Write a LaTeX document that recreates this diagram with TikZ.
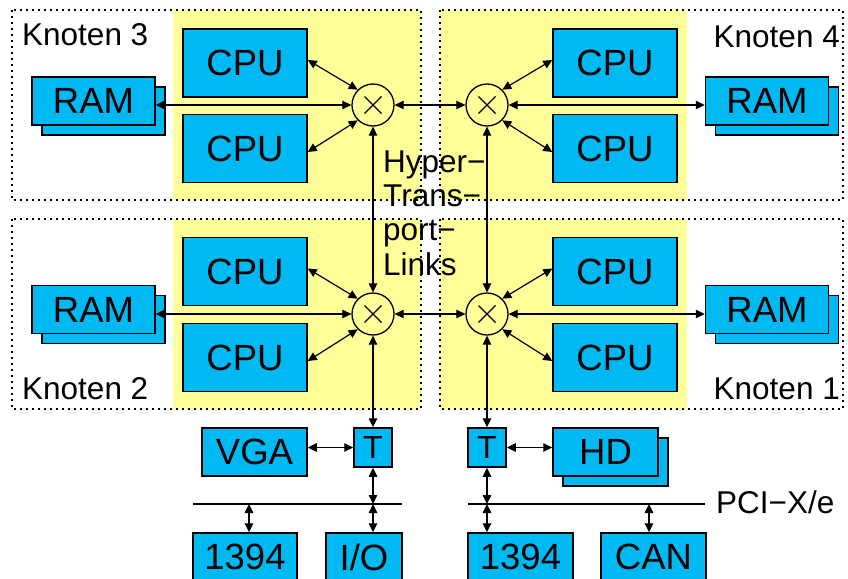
\documentclass[tikz,border=0pt]{standalone}
\usepackage{fontspec}
\setmainfont{Liberation Sans}
\usetikzlibrary{arrows.meta}
\definecolor{boxblue}{RGB}{0,185,242}
\definecolor{nodeyellow}{RGB}{255,255,153}

\begin{document}
\begin{tikzpicture}[x=1pt,y=-1pt,
  unit/.style={draw=black, line width=1.5pt, fill=boxblue, inner sep=0pt,
    font=\fontsize{36.5}{40}\selectfont},
  backcopy/.style={draw=black, line width=1.5pt, fill=boxblue, inner sep=0pt},
  cpubox/.style={unit, minimum width=124pt, minimum height=68pt},
  rambox/.style={unit, minimum width=123pt, minimum height=48pt},
  rambehind/.style={backcopy, minimum width=123pt, minimum height=48pt},
  xbar/.style={circle, draw=black, line width=1.3pt, minimum size=42pt, inner sep=0pt,
    path picture={\draw[line width=1.1pt] (path picture bounding box.center)
      +(-8.5pt,-8.5pt) -- +(8.5pt,8.5pt) +(-8.5pt,8.5pt) -- +(8.5pt,-8.5pt);}},
  link/.style={line width=1.2pt,
    {Triangle[length=9pt,width=8.5pt]}-{Triangle[length=9pt,width=8.5pt]}},
  knotframe/.style={line width=1.2pt, dash pattern=on 1.8pt off 4.2pt},
  nodetag/.style={font=\fontsize{31.5}{34.3}\selectfont, inner sep=0pt},
  ]
\useasboundingbox (0,0) rectangle (848,578);
\clip (0,0) rectangle (848,578);

% processor areas
\fill[nodeyellow] (173,10) rectangle (421,200);
\fill[nodeyellow] (440,10) rectangle (687,200);
\fill[nodeyellow] (173,219) rectangle (421,409);
\fill[nodeyellow] (440,219) rectangle (687,409);

% node frames
\draw[knotframe] (12,10) rectangle (421,200);
\draw[knotframe] (440,10) rectangle (843,200);
\draw[knotframe] (12,219) rectangle (421,409);
\draw[knotframe] (440,219) rectangle (843,409);

\node[nodetag, anchor=base west] (k3) at (22,46) {Knoten 3};
\node[nodetag, anchor=base east] (k4) at (840,48) {Knoten 4};
\node[nodetag, anchor=base west] (k2) at (22,399) {Knoten 2};
\node[nodetag, anchor=base east] (k1) at (840,399) {Knoten 1};

% crossbars
\node[xbar] (x3) at (373,105) {};
\node[xbar] (x4) at (487,105) {};
\node[xbar] (x2) at (373,314) {};
\node[xbar] (x1) at (487,314) {};

% CPUs
\node[cpubox] (c3a) at (245,63) {CPU};
\node[cpubox] (c3b) at (245,148.5) {CPU};
\node[cpubox] (c4a) at (615,63) {CPU};
\node[cpubox] (c4b) at (615,148.5) {CPU};
\node[cpubox] (c2a) at (245,271.5) {CPU};
\node[cpubox] (c2b) at (245,357.5) {CPU};
\node[cpubox] (c1a) at (615,271.5) {CPU};
\node[cpubox] (c1b) at (615,357.5) {CPU};

% memory banks
\node[rambehind] (r3b) at (103.5,111) {};
\node[rambox] (r3) at (93.5,101) {RAM};
\node[rambehind] (r4b) at (777,111) {};
\node[rambox] (r4) at (767,101) {RAM};
\node[rambehind] (r2b) at (103.5,319.5) {};
\node[rambox] (r2) at (93.5,309.5) {RAM};
\node[rambehind] (r1b) at (777,319.5) {};
\node[rambox] (r1) at (767,309.5) {RAM};

% CPU to crossbar
\draw[link] (x3.135) -- ([yshift=3pt]c3a.east);
\draw[link] (x3.-135) -- ([yshift=-3.5pt]c3b.east);
\draw[link] (x4.45) -- ([yshift=3pt]c4a.west);
\draw[link] (x4.-45) -- ([yshift=-3.5pt]c4b.west);
\draw[link] (x2.135) -- ([yshift=3pt]c2a.east);
\draw[link] (x2.-135) -- ([yshift=-3.5pt]c2b.east);
\draw[link] (x1.45) -- ([yshift=3pt]c1a.west);
\draw[link] (x1.-45) -- ([yshift=-3.5pt]c1b.west);

% memory to crossbar
\draw[link] (x3.west) -- (x3.west -| r3.east);
\draw[link] (x4.east) -- (x4.east -| r4.west);
\draw[link] (x2.west) -- (x2.west -| r2.east);
\draw[link] (x1.east) -- (x1.east -| r1.west);

% HyperTransport links
\draw[link] (x3.east) -- (x4.west);
\draw[link] (x2.east) -- (x1.west);
\draw[link] (x3.south) -- (x2.north);
\draw[link] (x4.south) -- (x1.north);

\node[nodetag, anchor=north west, align=left] (ht) at (383,150.5)
  {Hyper−\\Trans−\\port−\\Links};

% I/O side
\node[unit, minimum width=38pt, minimum height=39pt, font=\fontsize{32}{36}\selectfont] (tl) at (373,447.5) {T};
\node[unit, minimum width=38pt, minimum height=39pt, font=\fontsize{32}{36}\selectfont] (tr) at (487,447.5) {T};
\node[unit, minimum width=105pt, minimum height=48pt] (vga) at (254.5,452) {VGA};
\node[backcopy, minimum width=105pt, minimum height=48pt] (hdb) at (615.5,462) {};
\node[unit, minimum width=105pt, minimum height=48pt] (hd) at (605.5,452) {HD};

\node[unit, minimum width=104pt, minimum height=48pt] (fwl) at (245,557) {1394};
\node[unit, minimum width=76pt, minimum height=48pt] (io) at (364,557) {I/O};
\node[unit, minimum width=105pt, minimum height=48pt] (fwr) at (520.5,557) {1394};
\node[unit, minimum width=105pt, minimum height=48pt] (can) at (653.5,557) {CAN};

\draw[link] (x2.south) -- (tl.north);
\draw[link] (x1.south) -- (tr.north);
\draw[link] (tl.west) -- (tl.west -| vga.east);
\draw[link] (tr.east) -- (tr.east -| hd.west);

% buses
\coordinate (busla) at (193,504);
\coordinate (buslb) at (402,504);
\coordinate (busra) at (468,504);
\coordinate (busrb) at (705,504);
\draw[line width=1.2pt] (busla) -- (buslb);
\draw[line width=1.2pt] (busra) -- (busrb);
\node[nodetag, anchor=base west] (pci) at (716,513) {PCI−X/e};

\coordinate (tapfwl) at (249,504);
\coordinate (tapcan) at (649,504);
\draw[link] (tl.south) -- (tl.south |- busla);
\draw[link] (tl.south |- busla) -- (tl.south |- io.north);
\draw[link] (tr.south) -- (tr.south |- busra);
\draw[link] (tr.south |- busra) -- (tr.south |- fwr.north);
\draw[link] (tapfwl) -- (tapfwl |- fwl.north);
\draw[link] (tapcan) -- (tapcan |- can.north);
\end{tikzpicture}
\end{document}
